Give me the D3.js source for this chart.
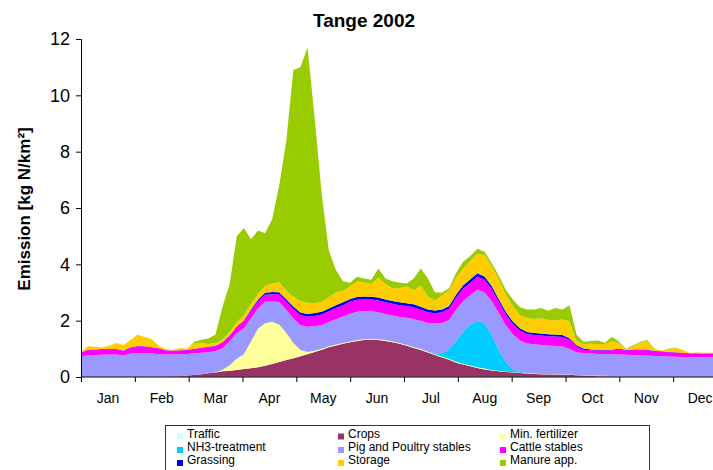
<!DOCTYPE html>
<html>
<head>
<meta charset="utf-8">
<script src="https://cdn.jsdelivr.net/npm/d3@7"></script>
<style>
  body { margin: 0; background: #fff; }
  svg { display: block; }
  text { font-family: "Liberation Sans", Arial, sans-serif; fill: #000; }
</style>
</head>
<body>
<svg id="chart" width="713" height="470"></svg>
<script>
//////////
// Data //
//////////

// day of year for each sample
var days = [
  0, 4, 8, 12, 16, 20, 24, 28, 32, 36,
  40, 44, 48, 52, 56, 60, 64, 68, 72, 76,
  80, 84, 88, 92, 96, 100, 104, 108, 112, 116,
  120, 124, 128, 132, 136, 140, 144, 148, 152, 156,
  160, 164, 168, 172, 176, 180, 184, 188, 192, 196,
  200, 204, 208, 212, 216, 220, 224, 228, 232, 236,
  240, 244, 248, 252, 256, 260, 264, 268, 272, 276,
  280, 284, 288, 292, 296, 300, 304, 308, 312, 316,
  320, 324, 328, 332, 336, 340, 344, 348, 352, 356,
  360, 364
];

var months = ['Jan', 'Feb', 'Mar', 'Apr', 'May', 'Jun', 'Jul', 'Aug', 'Sep', 'Oct', 'Nov', 'Dec'];
var yTicks = [0, 2, 4, 6, 8, 10, 12];

var seriesNames = ['Traffic', 'Crops', 'Min. fertilizer', 'NH3-treatment', 'Pig and Poultry stables',
  'Cattle stables', 'Grassing', 'Storage', 'Manure app.'];

var traffic = [
  0.01, 0.01, 0.01, 0.01, 0.01, 0.01, 0.01, 0.01, 0.01, 0.01,
  0.01, 0.01, 0.01, 0.01, 0.01, 0.01, 0.01, 0.01, 0.01, 0.01,
  0.01, 0.01, 0.01, 0.01, 0.01, 0.01, 0.01, 0.01, 0.01, 0.01,
  0.01, 0.01, 0.01, 0.01, 0.01, 0.01, 0.01, 0.01, 0.01, 0.01,
  0.01, 0.01, 0.01, 0.01, 0.01, 0.01, 0.01, 0.01, 0.01, 0.01,
  0.01, 0.01, 0.01, 0.01, 0.01, 0.01, 0.01, 0.01, 0.01, 0.01,
  0.01, 0.01, 0.01, 0.01, 0.01, 0.01, 0.01, 0.01, 0.01, 0.01,
  0.01, 0.01, 0.01, 0.01, 0.01, 0.01, 0.01, 0.01, 0.01, 0.01,
  0.01, 0.01, 0.01, 0.01, 0.01, 0.01, 0.01, 0.01, 0.01, 0.01,
  0.01, 0.01
];

var crops = [
  0, 0, 0, 0, 0, 0, 0, 0, 0, 0,
  0.01, 0.01, 0.01, 0.02, 0.02, 0.04, 0.06, 0.09, 0.12, 0.15,
  0.19, 0.21, 0.24, 0.27, 0.3, 0.34, 0.39, 0.45, 0.52, 0.59,
  0.66, 0.73, 0.8, 0.88, 0.96, 1.05, 1.11, 1.17, 1.22, 1.27,
  1.3, 1.32, 1.3, 1.27, 1.22, 1.17, 1.1, 1.02, 0.95, 0.86,
  0.77, 0.68, 0.6, 0.5, 0.43, 0.37, 0.31, 0.26, 0.22, 0.19,
  0.17, 0.15, 0.13, 0.11, 0.1, 0.09, 0.08, 0.08, 0.07, 0.07,
  0.05, 0.04, 0.03, 0.02, 0.02, 0.02, 0, 0, 0, 0,
  0, 0, 0, 0, 0, 0, 0, 0, 0, 0,
  0, 0
];

var minFertilizer = [
  0, 0, 0, 0, 0, 0, 0, 0, 0, 0,
  0, 0, 0, 0, 0, 0, 0, 0, 0, 0.01,
  0.06, 0.2, 0.4, 0.53, 0.95, 1.36, 1.51, 1.5, 1.33, 0.96,
  0.54, 0.22, 0.08, 0.04, 0.03, 0.03, 0.03, 0.03, 0.03, 0.03,
  0.03, 0.03, 0.03, 0.03, 0.03, 0.03, 0.03, 0.03, 0.03, 0.03,
  0.03, 0.03, 0.03, 0.03, 0.03, 0.03, 0.03, 0.03, 0.02, 0.02,
  0.01, 0.01, 0.01, 0.01, 0.01, 0.01, 0.01, 0.01, 0.01, 0.01,
  0.01, 0.01, 0.01, 0.01, 0.01, 0, 0, 0, 0, 0,
  0, 0, 0, 0, 0, 0, 0, 0, 0, 0,
  0, 0
];

var nh3Treatment = [
  0, 0, 0, 0, 0, 0, 0, 0, 0, 0,
  0, 0, 0, 0, 0, 0, 0, 0, 0, 0,
  0, 0, 0, 0, 0, 0, 0, 0, 0, 0,
  0, 0, 0, 0, 0, 0, 0, 0, 0, 0,
  0, 0, 0, 0, 0, 0, 0, 0, 0, 0,
  0.03, 0.12, 0.35, 0.75, 1.15, 1.45, 1.65, 1.6, 1.25, 0.75,
  0.35, 0.1, 0.03, 0.01, 0, 0, 0, 0, 0, 0,
  0, 0, 0, 0, 0, 0, 0, 0, 0, 0,
  0, 0, 0, 0, 0, 0, 0, 0, 0, 0,
  0, 0
];

var pigPoultry = [
  0.71, 0.77, 0.77, 0.78, 0.79, 0.79, 0.75, 0.82, 0.83, 0.83,
  0.81, 0.79, 0.78, 0.77, 0.78, 0.77, 0.77, 0.76, 0.75, 0.75,
  0.76, 0.85, 0.9, 0.92, 0.82, 0.72, 0.76, 0.72, 0.8, 0.82,
  0.87, 0.88, 0.89, 0.87, 0.84, 0.86, 0.9, 0.94, 0.99, 1.01,
  1.0, 0.97, 0.96, 0.92, 0.92, 0.92, 0.96, 1.0, 1.0, 1.02,
  1.06, 1.08, 1.03, 1.11, 1.08, 1.04, 1.1, 1.1, 1.2, 1.3,
  1.3, 1.25, 1.12, 1.05, 1.04, 1.03, 1.02, 1.0, 0.99, 0.91,
  0.81, 0.78, 0.78, 0.78, 0.78, 0.78, 0.79, 0.78, 0.77, 0.76,
  0.75, 0.74, 0.73, 0.72, 0.71, 0.7, 0.69, 0.69, 0.69, 0.69,
  0.69, 0.69
];

var cattle = [
  0.15, 0.18, 0.18, 0.2, 0.18, 0.18, 0.17, 0.22, 0.25, 0.24,
  0.22, 0.2, 0.14, 0.13, 0.13, 0.14, 0.15, 0.17, 0.18, 0.18,
  0.2, 0.2, 0.22, 0.25, 0.26, 0.25, 0.25, 0.26, 0.27, 0.3,
  0.33, 0.35, 0.36, 0.37, 0.38, 0.38, 0.4, 0.4, 0.42, 0.42,
  0.42, 0.42, 0.42, 0.42, 0.42, 0.42, 0.42, 0.42, 0.4, 0.38,
  0.36, 0.38, 0.4, 0.42, 0.44, 0.45, 0.46, 0.45, 0.43, 0.4,
  0.38, 0.36, 0.35, 0.34, 0.33, 0.33, 0.33, 0.34, 0.34, 0.32,
  0.2, 0.13, 0.12, 0.12, 0.13, 0.14, 0.18, 0.15, 0.19, 0.2,
  0.2, 0.17, 0.16, 0.15, 0.15, 0.14, 0.13, 0.13, 0.12, 0.12,
  0.12, 0.12
];

var grassing = [
  0.01, 0.01, 0.01, 0.01, 0.01, 0.01, 0.01, 0.01, 0.01, 0.01,
  0.01, 0.01, 0.01, 0.01, 0.01, 0.01, 0.01, 0.01, 0.01, 0.01,
  0.01, 0.01, 0.02, 0.03, 0.05, 0.06, 0.07, 0.08, 0.08, 0.08,
  0.09, 0.1, 0.1, 0.1, 0.1, 0.1, 0.1, 0.1, 0.1, 0.1,
  0.1, 0.1, 0.1, 0.1, 0.1, 0.1, 0.1, 0.1, 0.1, 0.1,
  0.1, 0.1, 0.1, 0.11, 0.12, 0.12, 0.12, 0.12, 0.11, 0.1,
  0.1, 0.09, 0.08, 0.07, 0.07, 0.07, 0.07, 0.07, 0.07, 0.06,
  0.05, 0.04, 0.03, 0.03, 0.02, 0.02, 0.02, 0.02, 0.01, 0.01,
  0.01, 0.01, 0.01, 0.01, 0.01, 0.01, 0.01, 0.01, 0.01, 0.01,
  0.01, 0.01
];

var storage = [
  0.02, 0.12, 0.1, 0.05, 0.12, 0.22, 0.2, 0.25, 0.4, 0.33,
  0.28, 0.08, 0.04, 0.03, 0.08, 0.03, 0.2, 0.18, 0.1, 0.1,
  0.1, 0.12, 0.15, 0.18, 0.2, 0.2, 0.25, 0.3, 0.35, 0.3,
  0.35, 0.4, 0.4, 0.35, 0.35, 0.4, 0.45, 0.4, 0.45, 0.55,
  0.5, 0.45, 0.7, 0.55, 0.45, 0.5, 0.6, 0.5, 0.75, 0.45,
  0.35, 0.5, 0.55, 0.6, 0.6, 0.65, 0.7, 0.75, 0.7, 0.7,
  0.6, 0.55, 0.45, 0.5, 0.5, 0.55, 0.5, 0.5, 0.55, 0.6,
  0.15, 0.15, 0.2, 0.2, 0.2, 0.3, 0.2, 0.02, 0.1, 0.25,
  0.3, 0.05, 0.02, 0.1, 0.15, 0.1, 0.02, 0.03, 0.03, 0.03,
  0.03, 0.03
];

var manure = [
  0, 0, 0, 0, 0, 0, 0, 0, 0, 0,
  0, 0, 0, 0, 0, 0, 0.05, 0.1, 0.2, 0.3,
  1.17, 1.7, 3.06, 3.1, 2.3, 2.26, 1.86, 2.28, 3.44, 5.34,
  8.05, 8.31, 9.06, 6.58, 3.83, 1.67, 0.8, 0.35, 0.13, 0.17,
  0.14, 0.15, 0.33, 0.2, 0.25, 0.2, 0.1, 0.42, 0.61, 0.65,
  0.29, 0.1, 0.08, 0.17, 0.24, 0.18, 0.17, 0.13, 0.11, 0.13,
  0.18, 0.23, 0.3, 0.3, 0.34, 0.36, 0.33, 0.44, 0.36, 0.57,
  0.22, 0.09, 0.1, 0.13, 0.05, 0.16, 0.05, 0.02, 0.05, 0.02,
  0.04, 0.02, 0, 0.02, 0.02, 0, 0, 0, 0, 0,
  0, 0
];

var seriesValues = [traffic, crops, minFertilizer, nh3Treatment, pigPoultry,
  cattle, grassing, storage, manure];

var colors = ['#CCFFFF', '#993366', '#FFFF99', '#00CCFF', '#9999FF',
  '#FF00FF', '#0000FF', '#FFCC00', '#99CC00'];

////////////
// Layout //
////////////

var svg = d3.select('#chart');
var plotLeft = 81, plotRight = 727, plotTop = 39, plotBottom = 377;

var x = d3.scaleLinear().domain([0, 365]).range([plotLeft, plotRight]);
var monthX = d3.scaleLinear().domain([0, 12]).range([plotLeft, plotRight]);
var y = d3.scaleLinear().domain([0, 12]).range([plotBottom, plotTop]);

var rows = days.map(function(d, i) {
  var r = {day: d};
  seriesNames.forEach(function(name, k) {
    r[name] = seriesValues[k][i];
  });
  return r;
});

var stacked = d3.stack().keys(seriesNames)(rows);

var area = d3.area()
  .x(function(d) { return x(d.data.day); })
  .y0(function(d) { return y(d[0]); })
  .y1(function(d) { return y(d[1]); });

svg.append('g')
  .selectAll('path')
  .data(stacked)
  .enter()
  .append('path')
    .attr('d', area)
    .attr('fill', function(d, i) { return colors[i]; })
    .attr('stroke', 'none');

///////////
// Axes  //
///////////

var yAxis = svg.append('g')
  .attr('transform', 'translate(' + plotLeft + ',0)')
  .call(d3.axisLeft(y).tickValues(yTicks).tickSize(5).tickPadding(6).tickFormat(d3.format('d')));
yAxis.selectAll('text').style('font-size', '18px');

var xAxis = svg.append('g')
  .attr('transform', 'translate(0,' + plotBottom + ')')
  .call(d3.axisBottom(monthX).tickValues(d3.range(0, 13)).tickSize(5).tickFormat(''));

svg.selectAll('.domain, .tick line').attr('stroke', '#000');
xAxis.select('.domain').attr('d', 'M' + plotLeft + ',0H713');

svg.append('g')
  .selectAll('text')
  .data(months)
  .enter()
  .append('text')
    .attr('x', function(d, i) { return monthX(i + 0.5); })
    .attr('y', 403)
    .attr('text-anchor', 'middle')
    .style('font-size', '14px')
    .text(function(d) { return d; });

// title and axis label
svg.append('text')
  .attr('x', 364)
  .attr('y', 27)
  .attr('text-anchor', 'middle')
  .style('font-size', '19px')
  .style('font-weight', 'bold')
  .text('Tange 2002');

svg.append('text')
  .attr('transform', 'translate(30,209) rotate(-90)')
  .attr('text-anchor', 'middle')
  .style('font-size', '17px')
  .style('font-weight', 'bold')
  .text('Emission [kg N/km\u00B2]');

////////////
// Legend //
////////////

var legend = svg.append('g');
legend.append('rect')
  .attr('x', 165.5)
  .attr('y', 425.5)
  .attr('width', 484)
  .attr('height', 60)
  .attr('fill', '#fff')
  .attr('stroke', '#333');

var colX = [177, 338, 500];
var rowY = [437.5, 451, 464];

var items = legend.selectAll('g.item')
  .data(seriesNames)
  .enter()
  .append('g')
    .attr('class', 'item')
    .attr('transform', function(d, i) {
      return 'translate(' + colX[i % 3] + ',' + rowY[Math.floor(i / 3)] + ')';
    });

items.append('rect')
  .attr('x', 0)
  .attr('y', -4)
  .attr('width', 6)
  .attr('height', 6)
  .attr('fill', function(d, i) { return colors[i]; });

items.append('text')
  .attr('x', 10)
  .attr('y', 0)
  .style('font-size', '12px')
  .text(function(d) { return d; });
</script>
</body>
</html>
